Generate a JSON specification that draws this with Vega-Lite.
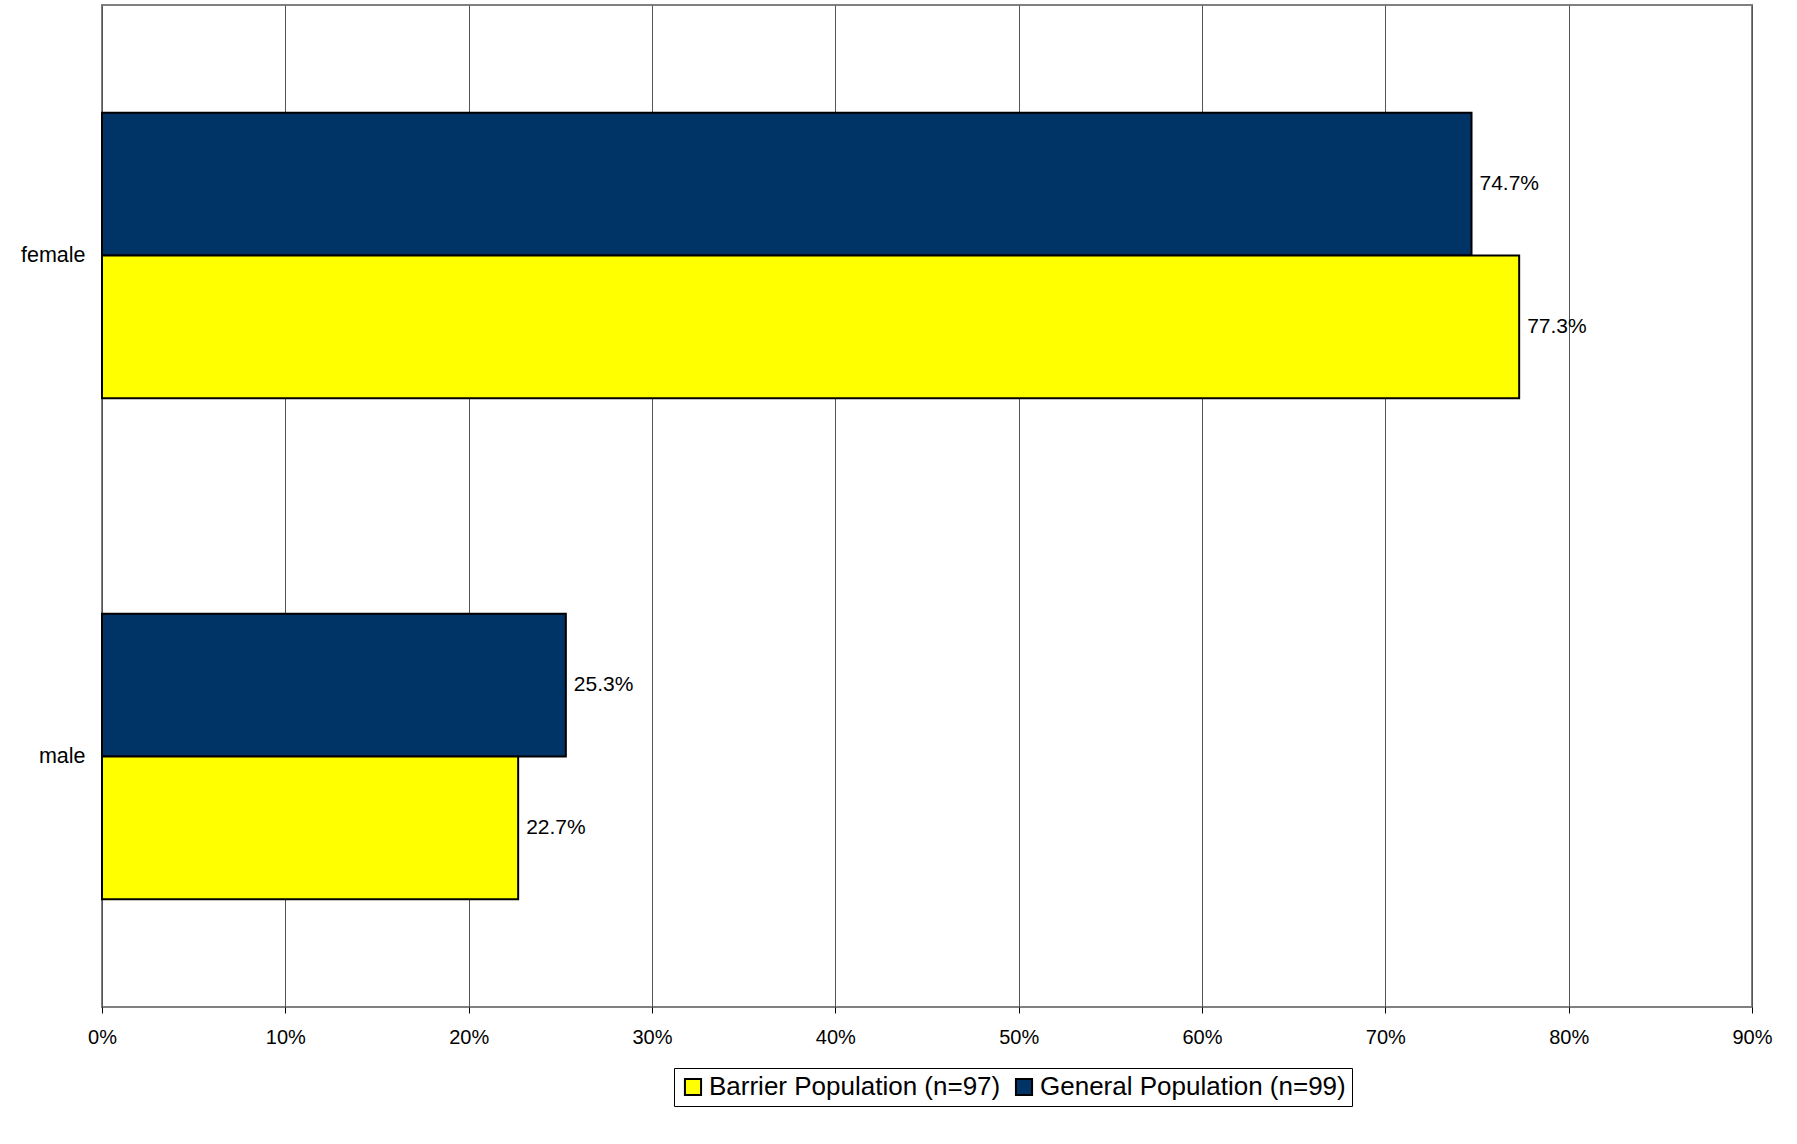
{
  "$schema": "https://vega.github.io/schema/vega-lite/v6.json",
  "width": 1650,
  "height": 1002,
  "autosize": "none",
  "padding": {"left": 102, "top": 5, "right": 45, "bottom": 137},
  "background": "white",
  "config": {
    "font": "Liberation Sans",
    "view": {"stroke": "#808080", "strokeWidth": 2}
  },
  "data": {
    "values": [
      {"sex": "female", "series": "General Population (n=99)", "value": 0.747},
      {"sex": "female", "series": "Barrier Population (n=97)", "value": 0.773},
      {"sex": "male", "series": "General Population (n=99)", "value": 0.253},
      {"sex": "male", "series": "Barrier Population (n=97)", "value": 0.227}
    ]
  },
  "encoding": {
    "y": {
      "field": "sex",
      "type": "nominal",
      "sort": ["female", "male"],
      "scale": {"paddingInner": 0.43, "paddingOuter": 0.215},
      "axis": {
        "title": null,
        "ticks": false,
        "domain": false,
        "labelFontSize": 21.5,
        "labelColor": "#000",
        "labelPadding": 17
      }
    },
    "yOffset": {
      "field": "series",
      "type": "nominal",
      "sort": ["General Population (n=99)", "Barrier Population (n=97)"],
      "scale": {"paddingInner": 0, "paddingOuter": 0}
    },
    "x": {
      "field": "value",
      "type": "quantitative",
      "scale": {"domain": [0, 0.9], "nice": false},
      "axis": {
        "title": null,
        "format": ".0%",
        "values": [0, 0.1, 0.2, 0.3, 0.4, 0.5, 0.6, 0.7, 0.8, 0.9],
        "labelOverlap": false,
        "labelFlush": false,
        "grid": true,
        "gridColor": "#555",
        "gridWidth": 1,
        "gridOpacity": 1,
        "domain": false,
        "tickColor": "#000",
        "tickSize": 6,
        "labelFontSize": 20,
        "labelColor": "#000",
        "labelPadding": 14
      }
    }
  },
  "layer": [
    {
      "mark": {"type": "bar", "stroke": "#000", "strokeWidth": 2},
      "encoding": {
        "color": {
          "field": "series",
          "type": "nominal",
          "scale": {
            "domain": ["Barrier Population (n=97)", "General Population (n=99)"],
            "range": ["#FFFF00", "#003366"]
          },
          "legend": {
            "title": null,
            "orient": "none",
            "direction": "horizontal",
            "legendX": 572,
            "legendY": 1063,
            "symbolType": "square",
            "symbolSize": 260,
            "symbolStrokeColor": "#000",
            "symbolStrokeWidth": 2,
            "symbolOpacity": 1,
            "labelFontSize": 26,
            "labelLimit": 0,
            "labelColor": "#000",
            "labelOffset": 3,
            "columnPadding": 10,
            "padding": 6,
            "strokeColor": "#000",
            "fillColor": "white"
          }
        }
      }
    },
    {
      "mark": {"type": "text", "align": "left", "baseline": "middle", "dx": 8, "fontSize": 21, "color": "#000"},
      "encoding": {
        "text": {"field": "value", "type": "quantitative", "format": ".1%"}
      }
    }
  ]
}
